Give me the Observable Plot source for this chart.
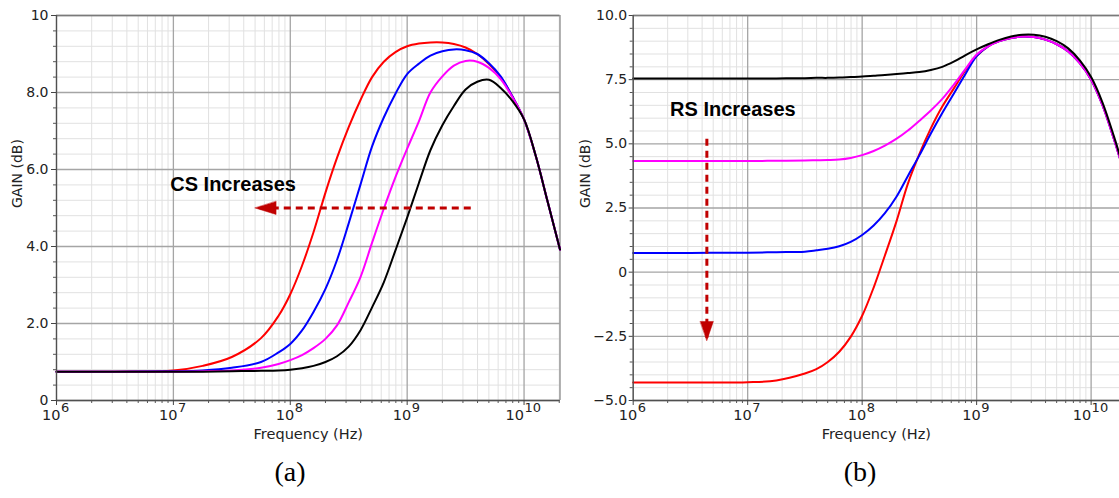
<!DOCTYPE html>
<html>
<head>
<meta charset="utf-8">
<script src="https://cdn.jsdelivr.net/npm/d3@7"></script>
<script src="https://cdn.jsdelivr.net/npm/@observablehq/plot@0.6"></script>
<style>
  body { margin: 0; background: #fff; }
  #page { position: relative; width: 1119px; height: 498px; overflow: hidden; background: #fff; }
  #chartA, #chartB { position: absolute; top: 0; }
  #chartA { left: 0; }
  #chartB { left: 565px; }
  .cap { position: absolute; font-family: "Liberation Serif", "Times New Roman", serif; font-size: 28px; color: #000;
         transform: translate(-50%, -50%); white-space: nowrap; }
</style>
</head>
<body>
<div id="page">
  <div id="chartA"></div>
  <div id="chartB"></div>
  <div class="cap" style="left:290px; top:472px">(a)</div>
  <div class="cap" style="left:860px; top:472px">(b)</div>
</div>
<script>
// Trace colours, in drawing order
const traceColors = ["#ff0000", "#0000ff", "#ff00ff", "#000000"];

// (a) Gain vs frequency while CS is stepped
const freqA = [1e6, 3.16e6, 1e7, 1.78e7, 3.16e7, 5.62e7, 7.94e7, 1e8, 1.26e8, 1.58e8, 2e8, 2.51e8, 3.16e8, 3.98e8,
  5.01e8, 6.31e8, 7.94e8, 1e9, 1.26e9, 1.58e9, 2e9, 2.51e9, 3.16e9, 3.98e9, 5.01e9, 6.31e9, 7.94e9, 1e10,
  1.26e10, 1.58e10, 2.03e10];
const gainA_red = [0.75, 0.75, 0.78, 0.9, 1.13, 1.62, 2.2, 2.76, 3.5, 4.37, 5.4, 6.3, 7.1, 7.8,
  8.4, 8.8, 9.05, 9.2, 9.27, 9.3, 9.3, 9.26, 9.17, 9.0, 8.74, 8.4, 7.9, 7.3,
  6.35, 5.2, 3.92];
const gainA_blue = [0.75, 0.75, 0.76, 0.78, 0.85, 1.0, 1.25, 1.47, 1.82, 2.3, 2.9, 3.65, 4.6, 5.6,
  6.6, 7.35, 7.97, 8.48, 8.75, 8.96, 9.07, 9.12, 9.1, 9.0, 8.76, 8.42, 7.9, 7.3,
  6.35, 5.2, 3.92];
const gainA_magenta = [0.75, 0.75, 0.75, 0.76, 0.78, 0.85, 0.95, 1.05, 1.18, 1.36, 1.6, 1.95, 2.55, 3.2,
  4.1, 4.98, 5.8, 6.54, 7.25, 8.0, 8.42, 8.7, 8.82, 8.8, 8.64, 8.35, 7.88, 7.3,
  6.35, 5.2, 3.92];
const gainA_black = [0.75, 0.75, 0.75, 0.75, 0.76, 0.77, 0.78, 0.8, 0.84, 0.9, 1.0, 1.15, 1.4, 1.82,
  2.42, 3.07, 3.9, 4.75, 5.65, 6.5, 7.15, 7.65, 8.08, 8.28, 8.33, 8.12, 7.78, 7.3,
  6.35, 5.2, 3.92];

// (b) Gain vs frequency while RS is stepped
const freqB = [1e6, 3.16e6, 1e7, 1.78e7, 3.16e7, 3.98e7, 5.01e7, 6.31e7, 7.94e7, 1e8, 1.26e8, 1.58e8, 2e8,
  2.51e8, 3.16e8, 3.98e8, 5.01e8, 6.31e8, 7.94e8, 1e9, 1.26e9, 1.58e9, 2e9, 2.51e9, 3.16e9, 3.98e9,
  5.01e9, 6.31e9, 7.94e9, 1e10, 1.26e10, 1.58e10, 1.78e10];
const gainB_red = [-4.3, -4.3, -4.29, -4.22, -3.95, -3.78, -3.5, -3.1, -2.52, -1.7, -0.6, 0.65, 2.0,
  3.45, 4.6, 5.6, 6.45, 7.15, 7.85, 8.42, 8.8, 9.0, 9.12, 9.18, 9.16, 9.06,
  8.88, 8.6, 8.15, 7.5, 6.5, 5.2, 4.45];
const gainB_blue = [0.75, 0.75, 0.76, 0.78, 0.8, 0.85, 0.91, 1.01, 1.18, 1.45, 1.82, 2.3, 2.95,
  3.75, 4.55, 5.4, 6.2, 6.95, 7.7, 8.42, 8.8, 9.0, 9.12, 9.18, 9.16, 9.06,
  8.88, 8.6, 8.15, 7.5, 6.5, 5.2, 4.45];
const gainB_magenta = [4.33, 4.33, 4.33, 4.34, 4.35, 4.36, 4.37, 4.39, 4.45, 4.56, 4.72, 4.93, 5.2,
  5.52, 5.9, 6.3, 6.75, 7.3, 7.9, 8.48, 8.8, 9.0, 9.12, 9.18, 9.16, 9.06,
  8.88, 8.6, 8.15, 7.5, 6.5, 5.2, 4.45];
const gainB_black = [7.55, 7.55, 7.55, 7.55, 7.56, 7.57, 7.57, 7.58, 7.6, 7.62, 7.65, 7.68, 7.72,
  7.76, 7.8, 7.88, 8.0, 8.2, 8.45, 8.68, 8.88, 9.05, 9.18, 9.25, 9.25, 9.17,
  9.0, 8.72, 8.26, 7.6, 6.6, 5.3, 4.55];

// Axis ticks and their labels
const decades = [1e6, 1e7, 1e8, 1e9, 1e10];
const yTicksA = [0, 2, 4, 6, 8, 10];
const yLabelsA = ["0", "2.0", "4.0", "6.0", "8.0", "10"];
const yTicksB = [-5, -2.5, 0, 2.5, 5, 7.5, 10];
const yLabelsB = ["\u22125.0", "\u22122.5", "0", "2.5", "5.0", "7.5", "10.0"];

// Annotations
const noteA = [{text: "CS Increases", x: 9.4e6, y: 5.6}];
const arrowA = [{x1: 3.5e9, x2: 5.0e7, y1: 5.0, y2: 5.0, dir: -90}];
const noteB = [{text: "RS Increases", x: 2.1e6, y: 6.33}];
const arrowB = [{x1: 4.4e6, x2: 4.4e6, y1: 5.2, y2: -2.66, dir: 180}];

const arrowRed = "#c00000";
const tickFont = "'DejaVu Sans', Verdana, sans-serif";

// Filled arrowhead whose tip sits at the anchor point
function headShape(halfWidth) {
  return {
    draw(context, l) {
      context.moveTo(0, -l);
      context.lineTo(-halfWidth, 0);
      context.lineTo(halfWidth, 0);
      context.closePath();
    }
  };
}

function gainChart({freq, series, xMax, yMin, yMax, yTicks, yLabels, yMinorStep, width, marginLeft, marginRight,
                    frameRight, tickSize, tickPadding, labelDx, note, arrow, headLength}) {
  const xMinor = decades.flatMap(d => d3.range(2, 10).map(m => m * d)).filter(v => v < xMax);
  const yMinor = d3.range(yMin, yMax + 1e-9, yMinorStep)
    .filter(v => !yTicks.some(t => Math.abs(t - v) < 1e-6));
  const rows = series.flatMap((g, k) => freq.map((f, i) => ({f, g: g[i], c: traceColors[k], k})));
  const oneDigit = decades.filter(d => d < 1e10);
  const twoDigit = decades.filter(d => d >= 1e10);
  const exponent = d => String(Math.round(Math.log10(d)));

  return Plot.plot({
    width, height: 450,
    marginLeft, marginRight, marginTop: 15, marginBottom: 50,
    x: {type: "log", domain: [1e6, xMax], axis: null, label: null},
    y: {domain: [yMin, yMax], axis: null, label: null},
    color: {type: "identity"},
    style: {fontFamily: tickFont, background: "white", overflow: "visible"},
    marks: [
      // light minor grid
      Plot.ruleX(xMinor, {stroke: "#e1e1e1", strokeWidth: 1}),
      Plot.ruleY(yMinor, {stroke: "#e1e1e1", strokeWidth: 1}),
      // major grid
      Plot.ruleX(decades, {stroke: "#a5a5a5", strokeWidth: 1.3}),
      Plot.ruleY(yTicks, {stroke: "#a5a5a5", strokeWidth: 1.3}),
      Plot.ruleY([yMax], {stroke: "#7a7a7a", strokeWidth: 1.4}),
      frameRight ? Plot.ruleX([xMax], {stroke: "#8a8a8a", strokeWidth: 1.3}) : null,
      // traces
      Plot.line(rows, {x: "f", y: "g", z: "k", stroke: "c", strokeWidth: 2, curve: "catmull-rom"}),
      // axis lines
      Plot.ruleX([1e6], {stroke: "#505050", strokeWidth: 1.3}),
      Plot.ruleY([yMin], {stroke: "#505050", strokeWidth: 1.3}),
      // ticks
      Plot.axisY(yMinor, {tickSize: 3, fill: "none", stroke: "#555"}),
      Plot.axisY(yTicks, {tickSize, tickPadding, stroke: "#444", fill: "#222", fontSize: 14,
        tickFormat: d => yLabels[yTicks.indexOf(d)]}),
      Plot.axisX(xMinor, {tickSize: 3, fill: "none", stroke: "#555"}),
      Plot.axisX(decades, {tickSize: 5, fill: "none", stroke: "#444"}),
      // decade labels: base "10" plus raised exponent
      Plot.text(oneDigit, {x: d => d, text: () => "10", frameAnchor: "bottom",
        dy: 19, dx: 4, textAnchor: "end", fontSize: 14.5, fill: "#222"}),
      Plot.text(oneDigit, {x: d => d, text: exponent,
        frameAnchor: "bottom", dy: 11, dx: 4.5, textAnchor: "start", fontSize: 13, fill: "#222"}),
      Plot.text(twoDigit, {x: d => d, text: () => "10", frameAnchor: "bottom",
        dy: 19, dx: 0, textAnchor: "end", fontSize: 14.5, fill: "#222"}),
      Plot.text(twoDigit, {x: d => d, text: exponent,
        frameAnchor: "bottom", dy: 11, dx: 0.5, textAnchor: "start", fontSize: 13, fill: "#222"}),
      // axis titles
      Plot.text(["Frequency (Hz)"], {frameAnchor: "bottom", dy: 38, fontSize: 14.5, fill: "#222"}),
      Plot.text(["GAIN (dB)"], {frameAnchor: "left", dx: labelDx, rotate: -90, fontSize: 14, fill: "#222"}),
      // annotation
      Plot.link(arrow, {x1: "x1", x2: "x2", y1: "y1", y2: "y2", stroke: arrowRed, strokeWidth: 3,
        strokeDasharray: "7,5"}),
      Plot.vector(arrow, {x: "x2", y: "y2", rotate: "dir", length: headLength, anchor: "end",
        shape: headShape(6.5), fill: arrowRed, stroke: arrowRed, strokeWidth: 0.5}),
      Plot.text(note, {x: "x", y: "y", text: "text", textAnchor: "start", fontFamily: "'Liberation Sans', Arial, sans-serif",
        fontWeight: "bold", fontSize: 20, fill: "#000"})
    ]
  });
}

document.getElementById("chartA").append(gainChart({
  freq: freqA,
  series: [gainA_red, gainA_blue, gainA_magenta, gainA_black],
  xMax: 2.03e10, yMin: 0, yMax: 10, yTicks: yTicksA, yLabels: yLabelsA, yMinorStep: 0.4,
  width: 565, marginLeft: 56, marginRight: 5.5, frameRight: true,
  tickSize: 5, tickPadding: 3, labelDx: -39,
  note: noteA, arrow: arrowA, headLength: 21
}));

document.getElementById("chartB").append(gainChart({
  freq: freqB,
  series: [gainB_red, gainB_blue, gainB_magenta, gainB_black],
  xMax: 1.77e10, yMin: -5, yMax: 10, yTicks: yTicksB, yLabels: yLabelsB, yMinorStep: 0.5,
  width: 554, marginLeft: 67.7, marginRight: 0, frameRight: false,
  tickSize: 4, tickPadding: 2, labelDx: -47.7,
  note: noteB, arrow: arrowB, headLength: 19
}));
</script>
</body>
</html>
